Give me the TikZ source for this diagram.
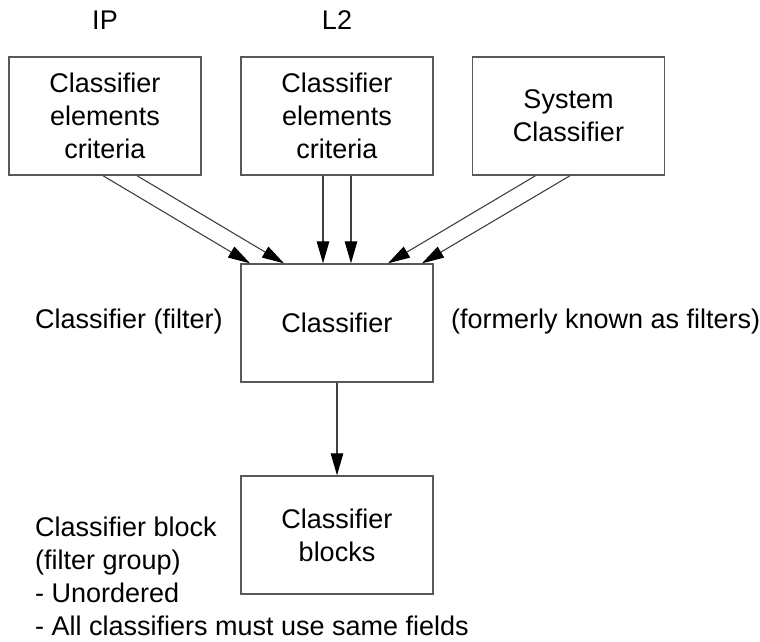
\documentclass[tikz,border=0pt]{standalone}
\usepackage{fontspec}
\setmainfont{Liberation Sans}
\usetikzlibrary{arrows.meta}
\begin{document}
\begin{tikzpicture}
[x=1pt,y=-1pt,font=\fontsize{27}{33}\selectfont,
box/.style={draw=black!65,line width=1.4pt,minimum width=192pt,
minimum height=118pt,align=center,inner sep=0pt},
note/.style={anchor=west,inner sep=0pt,align=left},
feed/.style={draw=black!75,line width=1.1pt,-{Triangle[length=22pt,width=12.5pt,color=black]}}]
       \useasboundingbox (0,0) rectangle (760,641);
       \node (ip) at (105,20) {IP};
       \node (l2) at (337,20) {L2};
       \node (ipcrit) at (105,116) [box] {Classifier\\elements\\criteria};
       \node (l2crit) at (337,116) [box] {Classifier\\elements\\criteria};
       \node (syscls) at (568.5,116) [box] {System\\Classifier};
       \node (cls) at (337,323) [box] {Classifier};
       \node (blocks) at (337,535) [box] {Classifier\\blocks};
       \node (clsnote) at (35,322) [note] {Classifier (filter)};
       \node (formerly) at (451,322) [note] {(formerly known as filters)};
       \node (blocknote) at (35,576) [note] {Classifier block\\(filter group)\\- Unordered\\- All classifiers must use same fields};
       \draw[feed] ([xshift=-2pt]ipcrit.south) -- ([xshift=-87pt]cls.north);
       \draw[feed] ([xshift=32pt]ipcrit.south) -- ([xshift=-53pt]cls.north);
       \draw[feed] ([xshift=-14pt]l2crit.south) -- ([xshift=-14pt]cls.north);
       \draw[feed] ([xshift=14pt]l2crit.south) -- ([xshift=14pt]cls.north);
       \draw[feed] ([xshift=-33pt]syscls.south) -- ([xshift=51pt]cls.north);
       \draw[feed] ([xshift=1.5pt]syscls.south) -- ([xshift=85pt]cls.north);
       \draw[feed] (cls.south) -- (blocks.north);
    \end{tikzpicture}
\end{document}
